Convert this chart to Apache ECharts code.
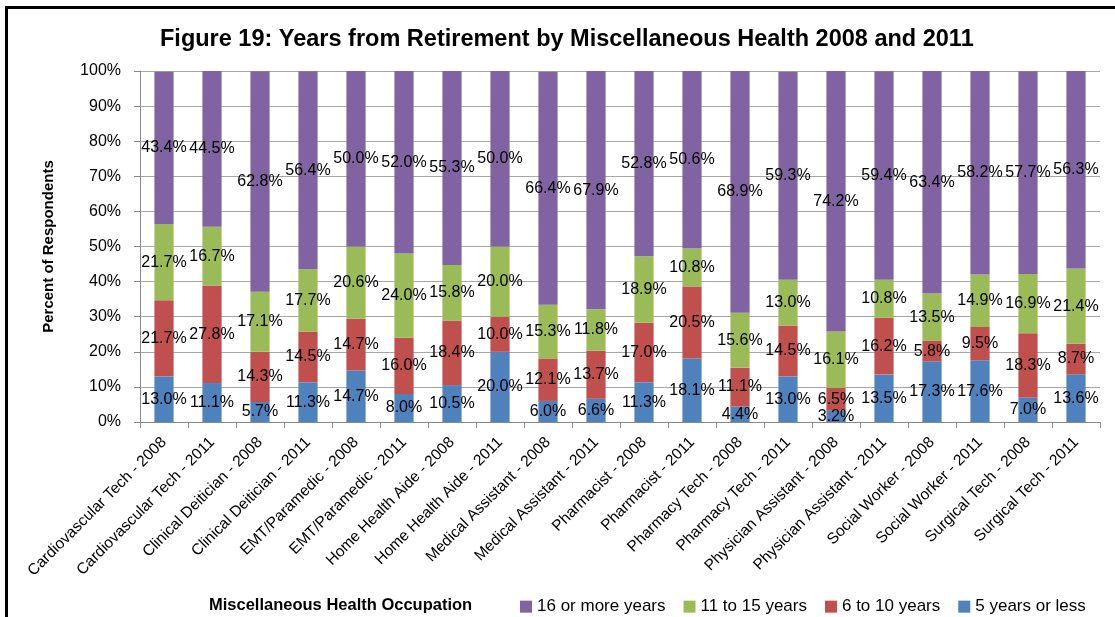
<html>
<head>
    <script src="https://cdn.jsdelivr.net/npm/echarts@6/dist/echarts.min.js"></script>
    <style>
        body { margin: 0; background: #fff; }
        #chart { width: 1115px; height: 617px; }
    </style>
</head>
<body>
    <div id="chart"></div>
    <script>
        var categories = ['Cardiovascular Tech - 2008', 'Cardiovascular Tech - 2011', 'Clinical Deitician - 2008',
            'Clinical Deitician - 2011', 'EMT/Paramedic - 2008', 'EMT/Paramedic - 2011', 'Home Health Aide - 2008',
            'Home Health Aide - 2011', 'Medical Assistant - 2008', 'Medical Assistant - 2011', 'Pharmacist - 2008',
            'Pharmacist - 2011', 'Pharmacy Tech - 2008', 'Pharmacy Tech - 2011', 'Physician Assistant - 2008',
            'Physician Assistant - 2011', 'Social Worker - 2008', 'Social Worker - 2011', 'Surgical Tech - 2008',
            'Surgical Tech - 2011'];
        var fiveOrLess = [13.0, 11.1, 5.7, 11.3, 14.7, 8.0, 10.5, 20.0, 6.0, 6.6, 11.3, 18.1, 4.4, 13.0, 3.2, 13.5, 17.3, 17.6, 7.0, 13.6];
        var sixToTen = [21.7, 27.8, 14.3, 14.5, 14.7, 16.0, 18.4, 10.0, 12.1, 13.7, 17.0, 20.5, 11.1, 14.5, 6.5, 16.2, 5.8, 9.5, 18.3, 8.7];
        var elevenToFifteen = [21.7, 16.7, 17.1, 17.7, 20.6, 24.0, 15.8, 20.0, 15.3, 11.8, 18.9, 10.8, 15.6, 13.0, 16.1, 10.8, 13.5, 14.9, 16.9, 21.4];
        var sixteenPlus = [43.4, 44.5, 62.8, 56.4, 50.0, 52.0, 55.3, 50.0, 66.4, 67.9, 52.8, 50.6, 68.9, 59.3, 74.2, 59.4, 63.4, 58.2, 57.7, 56.3];

        var font = 'Liberation Sans';

        function makeSeries(name, data, color) {
            return {
                name: name,
                type: 'bar',
                stack: 'total',
                barWidth: '40%',
                data: data,
                itemStyle: { color: color },
                label: {
                    show: true,
                    position: 'inside',
                    color: '#000',
                    fontFamily: font,
                    fontSize: 16,
                    formatter: function (p) { return p.value.toFixed(1) + '%'; }
                }
            };
        }

        var myChart = echarts.init(document.getElementById('chart'));
        var option = {
            animation: false,
            title: {
                text: 'Figure 19: Years from Retirement by Miscellaneous Health 2008 and 2011',
                left: 155,
                top: 14,
                textStyle: { fontFamily: font, fontSize: 23.5, fontWeight: 'bold', color: '#000' }
            },
            grid: { left: 140, right: 15, top: 71, bottom: 195 },
            legend: {
                data: ['16 or more years', '11 to 15 years', '6 to 10 years', '5 years or less'],
                left: 515,
                top: 587,
                icon: 'rect',
                itemWidth: 12,
                itemHeight: 12,
                itemGap: 18,
                textStyle: { fontFamily: font, fontSize: 17, color: '#000' }
            },
            graphic: [
                {
                    type: 'rect',
                    shape: { x: 6.5, y: 7.5, width: 1300, height: 800 },
                    style: { fill: 'none', stroke: '#000', lineWidth: 3 }
                },
                {
                    type: 'text',
                    left: 209,
                    top: 591,
                    style: { text: 'Miscellaneous Health Occupation', fontFamily: font, fontSize: 16.5, fontWeight: 'bold', fill: '#000' }
                }
            ],
            xAxis: {
                type: 'category',
                data: categories,
                axisLine: { lineStyle: { color: '#888' } },
                axisTick: { show: true, length: 6, lineStyle: { color: '#888' } },
                axisLabel: { rotate: 45, interval: 0, fontFamily: font, fontSize: 15.5, color: '#000', margin: 18 }
            },
            yAxis: {
                type: 'value',
                min: 0,
                max: 100,
                interval: 10,
                name: 'Percent of Respondents',
                nameLocation: 'middle',
                nameRotate: 90,
                nameGap: 78,
                nameTextStyle: { fontFamily: font, fontSize: 15, fontWeight: 'bold', color: '#000' },
                axisLine: { show: true, lineStyle: { color: '#888' } },
                axisTick: { show: true, length: 6, lineStyle: { color: '#888' } },
                splitLine: { lineStyle: { color: '#a6a6a6' } },
                axisLabel: { fontFamily: font, fontSize: 16, color: '#000', margin: 19, formatter: '{value}%' }
            },
            series: [
                makeSeries('5 years or less', fiveOrLess, '#4F81BD'),
                makeSeries('6 to 10 years', sixToTen, '#C0504D'),
                makeSeries('11 to 15 years', elevenToFifteen, '#9BBB59'),
                makeSeries('16 or more years', sixteenPlus, '#8064A2')
            ]
        };
        myChart.setOption(option);
    </script>
</body>
</html>
